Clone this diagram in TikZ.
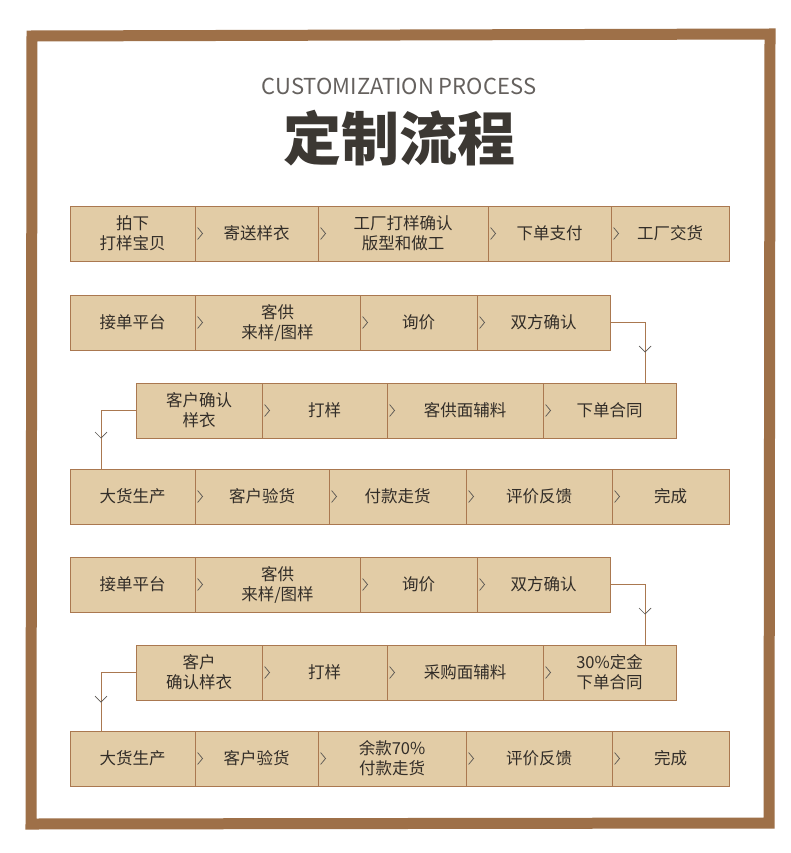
\documentclass[tikz,border=0pt]{standalone}
\usepackage{fontspec}
\setmainfont{Noto Sans CJK SC}
\usetikzlibrary{positioning,calc}
\definecolor{frame}{RGB}{158,112,72}
\definecolor{cellfill}{RGB}{226,204,166}
\definecolor{celledge}{RGB}{170,120,80}
\definecolor{ink}{RGB}{50,45,40}

\tikzset{
  cell/.style={draw=celledge, fill=cellfill, line width=0.9pt, text=ink,
    align=center, inner sep=0pt, font=\fontsize{16.5}{20}\selectfont},
  chev/.style={draw=ink!80, line width=0.7pt},
  link/.style={draw=celledge, line width=0.8pt},
}

% one row of cells: name, y of centre, list of left/right/text
\newcommand\flowrow[3]{%
  \foreach \a/\b/\t [count=\i] in {#3}{
    \node[cell, minimum width={(\b-\a)*1pt}, minimum height=55pt]
      (#1c\i) at ({(\a+\b)/2*1pt}, {-#2*1pt}) {\t};
    \ifnum\i>1
      \draw[chev] ([xshift=3pt,yshift=6pt]#1c\i.west) -- ++(5pt,-6pt) -- ++(-5pt,-6pt);
    \fi
  }%
}

\begin{document}
\begin{tikzpicture}[x=1pt,y=1pt]
  \useasboundingbox (0,0) rectangle (790,-853);
  \fill[white] (0,0) rectangle (790,-853);
  % frame
  \draw[frame, line width=11pt] (32,-36) -- (770,-34) -- (769,-823) -- (31,-824) -- cycle;

  % title
  \node[text=ink!75, font=\fontsize{22}{26}\selectfont] (sub) at (399,-86) {CUSTOMIZATION PROCESS};
  \node[text=ink!95, font=\fontsize{58}{64}\bfseries\selectfont, below=9pt of sub] (title) {定制流程};

  \flowrow{a}{233.5}{70/195/{拍下\\打样宝贝}, 195/318/寄送样衣, 318/488/{工厂打样确认\\版型和做工}, 488/611/下单支付, 611/729/工厂交货}
  \flowrow{b}{322.5}{70/195/接单平台, 195/360/{客供\\来样/图样}, 360/477/询价, 477/610/双方确认}
  \flowrow{c}{410.5}{136/262/{客户确认\\样衣}, 262/387/打样, 387/543/客供面辅料, 543/676/下单合同}
  \flowrow{d}{496.5}{70/195/大货生产, 195/329/客户验货, 329/466/付款走货, 466/612/评价反馈, 612/729/完成}
  \flowrow{e}{584.5}{70/195/接单平台, 195/360/{客供\\来样/图样}, 360/477/询价, 477/610/双方确认}
  \flowrow{f}{672.5}{136/262/{客户\\确认样衣}, 262/387/打样, 387/543/采购面辅料, 543/676/{30\%定金\\下单合同}}
  \flowrow{g}{758.5}{70/195/大货生产, 195/318/客户验货, 318/466/{余款70\%\\付款走货}, 466/612/评价反馈, 612/729/完成}

  % links between rows
  \draw[link] (bc4.east) -| ($(cc4.north)+(35.5,0)$);
  \draw[link] (cc1.west) -| ($(dc1.north)+(-31.5,0)$);
  \draw[link] (ec4.east) -| ($(fc4.north)+(35.5,0)$);
  \draw[link] (fc1.west) -| ($(gc1.north)+(-31.5,0)$);
  \foreach \p in {(645,-352), (101,-438), (645,-614), (101,-702)}{
    \draw[chev] \p ++(-6,6) -- ++(6,-6) -- ++(6,6);
  }
\end{tikzpicture}
\end{document}
